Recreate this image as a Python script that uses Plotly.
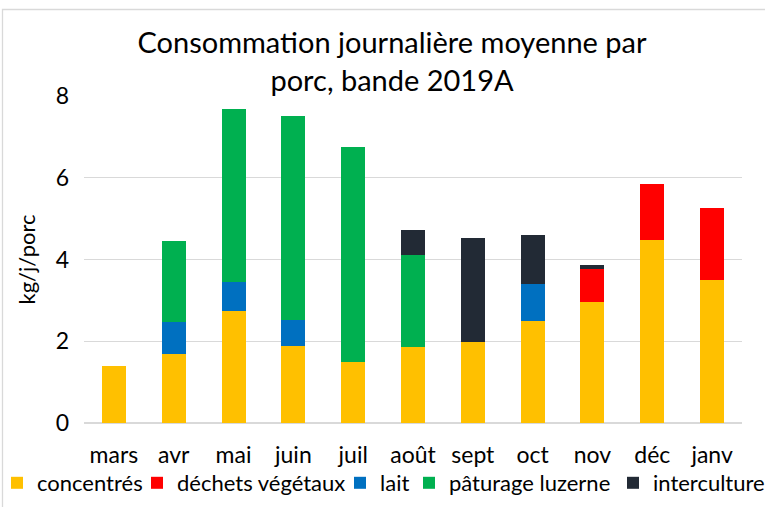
import plotly.graph_objects as go

mois = ["mars", "avr", "mai", "juin", "juil", "août", "sept", "oct", "nov", "déc", "janv"]
concentres = [1.40, 1.70, 2.74, 1.88, 1.50, 1.87, 1.99, 2.50, 2.97, 4.47, 3.49]
dechets_vegetaux = [0, 0, 0, 0, 0, 0, 0, 0, 0.80, 1.38, 1.78]
lait = [0, 0.76, 0.71, 0.64, 0, 0, 0, 0.90, 0, 0, 0]
paturage_luzerne = [0, 2.00, 4.24, 5.00, 5.25, 2.25, 0, 0, 0, 0, 0]
interculture = [0, 0, 0, 0, 0, 0.60, 2.53, 1.21, 0.09, 0, 0]

series = [
    ("concentrés", concentres, "#FFC000"),
    ("déchets végétaux", dechets_vegetaux, "#FF0000"),
    ("lait", lait, "#0070C0"),
    ("pâturage luzerne", paturage_luzerne, "#00B050"),
    ("interculture", interculture, "#222A35"),
]
legend_text_x = [37, 177, 380, 449, 653]

W, H = 765, 507
L, R, T, B = 84, 23, 96, 84
pw, ph = W - L - R, H - T - B

def px_x(x):
    return (x - L) / pw

def px_y(y):
    return (H - B - y) / ph

FONT = "Lato"
FS = 23

fig = go.Figure()
legends = {}
for i, (name, vals, col) in enumerate(series):
    lname = "legend" if i == 0 else f"legend{i + 1}"
    fig.add_trace(go.Bar(
        x=mois, y=vals, name=name,
        marker=dict(color=col, line=dict(width=0)),
        legend=lname,
    ))
    legends[lname] = dict(
        orientation="h",
        x=px_x(legend_text_x[i] - 40), xanchor="left",
        y=px_y(483), yanchor="middle",
        font=dict(family=FONT, size=22, color="#000000"),
        bgcolor="rgba(0,0,0,0)",
        itemclick=False, itemdoubleclick=False,
    )

fig.update_layout(
    width=W, height=H,
    margin=dict(l=L, r=R, t=T, b=B, autoexpand=False),
    barmode="stack",
    bargap=0.6,
    plot_bgcolor="white",
    paper_bgcolor="white",
    font=dict(family=FONT, size=FS, color="#000000"),
    title=dict(
        text="Consommation journalière moyenne par<br>porc, bande 2019A",
        x=392 / W, xanchor="center", xref="container",
        y=1 - 53 / H, yanchor="top", yref="container",
        font=dict(family=FONT, size=29, color="#000000"),
    ),
    showlegend=True,
    **legends,
)
fig.update_xaxes(
    showgrid=False, showline=False,
    ticks="", ticklabelstandoff=16,
    tickfont=dict(family=FONT, size=FS),
)
fig.update_yaxes(
    range=[0, 8], dtick=2,
    showgrid=True, gridcolor="#D9D9D9", gridwidth=1.3,
    zeroline=True, zerolinecolor="#D9D9D9", zerolinewidth=1.5,
    showline=False,
    ticks="", ticklabelstandoff=14,
    tickfont=dict(family=FONT, size=FS),
    title=dict(text="kg/j/porc", font=dict(family=FONT, size=22), standoff=13),
)
fig.add_shape(
    type="rect", xref="paper", yref="paper",
    x0=px_x(2.5), x1=px_x(800), y0=px_y(560), y1=px_y(9.5),
    line=dict(color="#D9D9D9", width=1.3), fillcolor="rgba(0,0,0,0)", layer="below",
)
fig.write_html(
    "out.html",
    config={"displayModeBar": False},
    post_script="document.body.style.margin='0';",
)
